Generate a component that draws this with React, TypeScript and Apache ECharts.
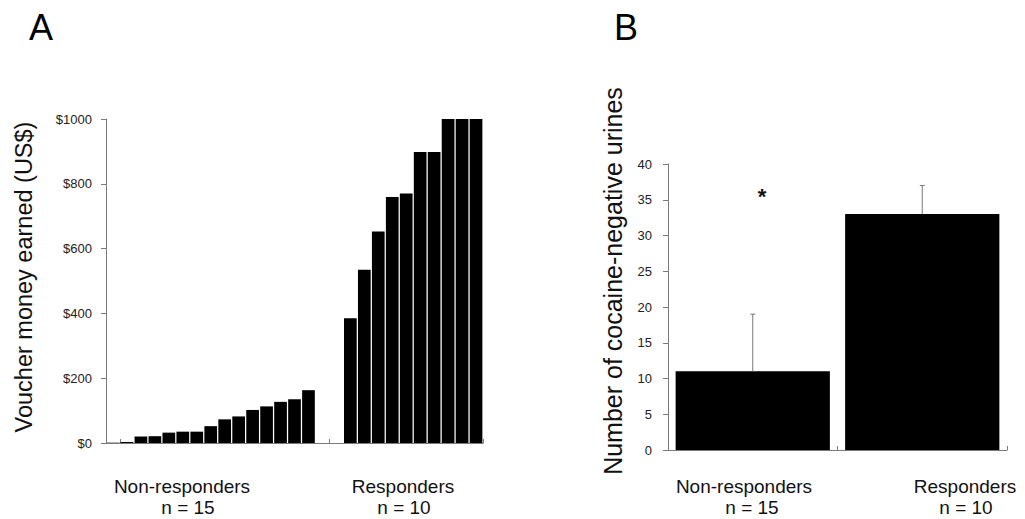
import React, { useEffect, useRef } from 'react';
import * as echarts from 'echarts';

// ---- Panel A data: voucher money earned per participant (US$) ----
const nonResponderValues = [1, 3, 20, 21, 32, 35, 35, 52, 73, 82, 102, 113, 127, 135, 163];
const responderValues = [385, 535, 653, 759, 770, 898, 898, 1000, 1000, 1000];
const voucherTickMax = 1000;
const voucherTickStep = 200;

// ---- Panel B data: cocaine-negative urines ----
const groupNames = ['Non-responders', 'Responders'];
const groupSizes = [15, 10];
const negativeUrineMeans = [11, 33];
const negativeUrineErrors = [8, 4];
const urineTickMax = 40;
const urineTickStep = 5;

const yTitleA = 'Voucher money earned (US$)';
const yTitleB = 'Number of cocaine-negative urines';
const panelLetters = ['A', 'B'];

const FONT = '"Liberation Sans", Arial, Helvetica, sans-serif';
const AXIS_GREY = '#7a7a7a';

export default function App() {
  const ref = useRef<HTMLDivElement>(null);

  useEffect(() => {
    if (!ref.current) return;
    const chart = echarts.init(ref.current, null, { renderer: 'svg' });

    const nrIds = nonResponderValues.map((_, i) => 'NR' + (i + 1));
    const rIds = responderValues.map((_, i) => 'R' + (i + 1));
    const categoriesA = [...nrIds, 'gap-1', 'gap-2', ...rIds];
    const dataA = [...nonResponderValues, null, null, ...responderValues];

    const groupLabelsA = [
      { x: 182, nx: 188, name: groupNames[0], n: groupSizes[0] },
      { x: 403, nx: 404, name: groupNames[1], n: groupSizes[1] },
    ];
    const groupLabelsB = [
      { x: 744, nx: 752, name: groupNames[0], n: groupSizes[0] },
      { x: 965, nx: 966, name: groupNames[1], n: groupSizes[1] },
    ];
    const labelTexts: any[] = [];
    [...groupLabelsA, ...groupLabelsB].forEach((g) => {
      labelTexts.push({
        type: 'text', x: g.x, y: 486,
        style: { text: g.name, font: `19px ${FONT}`, fill: '#111', textAlign: 'center', textVerticalAlign: 'middle' },
      });
      labelTexts.push({
        type: 'text', x: g.nx, y: 507,
        style: { text: 'n = ' + g.n, font: `19px ${FONT}`, fill: '#111', textAlign: 'center', textVerticalAlign: 'middle' },
      });
    });

    const option: any = {
      animation: false,
      backgroundColor: '#ffffff',
      grid: [
        { left: 106, top: 119, width: 377, height: 324 },
        { left: 668, top: 164, width: 339, height: 286 },
      ],
      xAxis: [
        {
          type: 'category', gridIndex: 0, data: categoriesA,
          axisLine: { lineStyle: { color: AXIS_GREY, width: 1 } },
          axisTick: {
            show: true, inside: true, length: 4,
            interval: (index: number) => index === 1 || index === 16,
            lineStyle: { color: AXIS_GREY },
          },
          axisLabel: { show: false },
        },
        {
          type: 'category', gridIndex: 1, data: groupNames,
          axisLine: { lineStyle: { color: AXIS_GREY, width: 1 } },
          axisTick: { show: true, inside: true, length: 4, lineStyle: { color: AXIS_GREY } },
          axisLabel: { show: false },
        },
      ],
      yAxis: [
        {
          type: 'value', gridIndex: 0, min: 0, max: voucherTickMax, interval: voucherTickStep,
          splitLine: { show: false },
          axisLine: { show: true, lineStyle: { color: AXIS_GREY, width: 1 } },
          axisTick: { show: true, length: 5, lineStyle: { color: AXIS_GREY } },
          axisLabel: { formatter: (v: number) => '$' + v, fontFamily: FONT, fontSize: 13, color: '#222', margin: 14 },
        },
        {
          type: 'value', gridIndex: 1, min: 0, max: urineTickMax, interval: urineTickStep,
          splitLine: { show: false },
          axisLine: { show: true, lineStyle: { color: AXIS_GREY, width: 1 } },
          axisTick: { show: true, length: 5, lineStyle: { color: AXIS_GREY } },
          axisLabel: { fontFamily: FONT, fontSize: 13, color: '#222', margin: 16 },
        },
      ],
      series: [
        {
          type: 'bar', xAxisIndex: 0, yAxisIndex: 0, data: dataA,
          barCategoryGap: '9%', itemStyle: { color: '#000' },
        },
        {
          type: 'bar', xAxisIndex: 1, yAxisIndex: 1, data: negativeUrineMeans,
          barCategoryGap: '9%', itemStyle: { color: '#000' },
        },
        {
          type: 'custom', xAxisIndex: 1, yAxisIndex: 1, z: 5,
          data: negativeUrineMeans.map((m, i) => [i, m, negativeUrineErrors[i]]),
          encode: { x: 0, y: 1 },
          renderItem: (params: any, api: any) => {
            const i = api.value(0);
            const mean = api.value(1);
            const err = api.value(2);
            const base = api.coord([i, mean]);
            const top = api.coord([i, mean + err]);
            return {
              type: 'group',
              children: [
                { type: 'line', shape: { x1: base[0], y1: base[1], x2: top[0], y2: top[1] }, style: { stroke: '#777', lineWidth: 1 } },
                { type: 'line', shape: { x1: top[0] - 2.5, y1: top[1], x2: top[0] + 2.5, y2: top[1] }, style: { stroke: '#777', lineWidth: 1 } },
              ],
            };
          },
        },
      ],
      graphic: [
        { type: 'text', x: 29, y: 27, style: { text: panelLetters[0], font: `36px ${FONT}`, fill: '#000', textAlign: 'left', textVerticalAlign: 'middle' } },
        { type: 'text', x: 614, y: 27, style: { text: panelLetters[1], font: `36px ${FONT}`, fill: '#000', textAlign: 'left', textVerticalAlign: 'middle' } },
        { type: 'text', x: 24, y: 277, rotation: Math.PI / 2, style: { text: yTitleA, font: `23.5px ${FONT}`, fill: '#111', textAlign: 'center', textVerticalAlign: 'middle' } },
        { type: 'text', x: 613, y: 281, rotation: Math.PI / 2, style: { text: yTitleB, font: `25px ${FONT}`, fill: '#111', textAlign: 'center', textVerticalAlign: 'middle' } },
        { type: 'text', x: 762, y: 196, style: { text: '*', font: `bold 22px ${FONT}`, fill: '#111', textAlign: 'center', textVerticalAlign: 'middle' } },
        ...labelTexts,
      ],
    };

    chart.setOption(option);
    return () => chart.dispose();
  }, []);

  return (
    <div
      ref={ref}
      style={{ position: 'fixed', left: 0, top: 0, width: 1025, height: 519, background: '#fff' }}
    />
  );
}
